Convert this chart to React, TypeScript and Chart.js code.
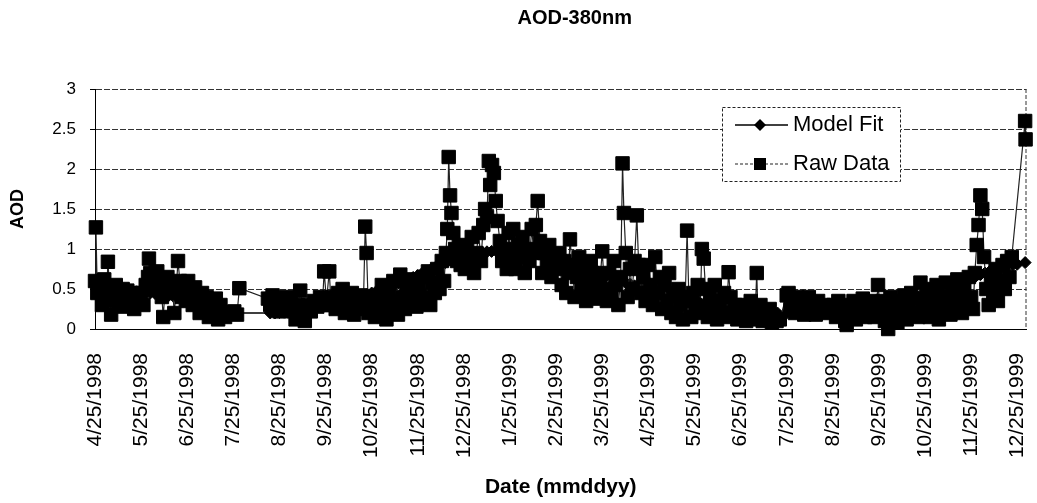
import React, { useEffect, useRef } from 'react';
import { Chart, registerables } from 'chart.js';

Chart.register(...registerables);

const FONT = "'Liberation Sans', Arial, sans-serif";

const tickLabels = [
  '4/25/1998', '5/25/1998', '6/25/1998', '7/25/1998', '8/25/1998', '9/25/1998',
  '10/25/1998', '11/25/1998', '12/25/1998', '1/25/1999', '2/25/1999', '3/25/1999',
  '4/25/1999', '5/25/1999', '6/25/1999', '7/25/1999', '8/25/1999', '9/25/1999',
  '10/25/1999', '11/25/1999', '12/25/1999',
];

// [months after 4/25/1998, AOD]
const rawPoints: [number, number][] = [
  [0.00, 0.60], [0.02, 1.27], [0.05, 0.45], [0.10, 0.55], [0.15, 0.30], [0.20, 0.62], [0.25, 0.40], [0.28, 0.84], [0.32, 0.50], [0.35, 0.18], [0.40, 0.35], [0.45, 0.55], [0.50, 0.42], [0.55, 0.28], [0.60, 0.50], [0.65, 0.35], [0.70, 0.48], [0.75, 0.30], [0.80, 0.45], [0.85, 0.25], [0.90, 0.40], [0.95, 0.32],
  [1.00, 0.45], [1.05, 0.30], [1.10, 0.55], [1.15, 0.65], [1.17, 0.88], [1.20, 0.70], [1.25, 0.50], [1.30, 0.62], [1.35, 0.72], [1.40, 0.55], [1.45, 0.40], [1.48, 0.15], [1.52, 0.50], [1.57, 0.65], [1.62, 0.45], [1.67, 0.58], [1.72, 0.20], [1.76, 0.50], [1.80, 0.85], [1.84, 0.60], [1.88, 0.40], [1.93, 0.55], [1.97, 0.35],
  [2.02, 0.60], [2.07, 0.45], [2.12, 0.30], [2.17, 0.52], [2.22, 0.38], [2.27, 0.20], [2.32, 0.45], [2.37, 0.30], [2.42, 0.40], [2.47, 0.15], [2.52, 0.35], [2.57, 0.25], [2.62, 0.38], [2.67, 0.12], [2.72, 0.30], [2.77, 0.20], [2.82, 0.15],
  [2.95, 0.20], [3.02, 0.22], [3.08, 0.18], [3.13, 0.51],
  [3.75, 0.38], [3.80, 0.30], [3.85, 0.42], [3.90, 0.25], [3.95, 0.35], [4.00, 0.22], [4.05, 0.38], [4.10, 0.28], [4.15, 0.40], [4.20, 0.30],
  [4.25, 0.32], [4.30, 0.22], [4.35, 0.12], [4.40, 0.30], [4.45, 0.48], [4.50, 0.25], [4.55, 0.10], [4.62, 0.30], [4.68, 0.22], [4.75, 0.35], [4.82, 0.28], [4.88, 0.40], [4.93, 0.30], [4.97, 0.72], [5.02, 0.35], [5.08, 0.72], [5.12, 0.30],
  [5.17, 0.40], [5.22, 0.25], [5.27, 0.45], [5.32, 0.30], [5.37, 0.50], [5.42, 0.20], [5.47, 0.38], [5.52, 0.28], [5.57, 0.45], [5.62, 0.18], [5.67, 0.35], [5.72, 0.25], [5.77, 0.42], [5.82, 0.30], [5.86, 1.28], [5.89, 0.95], [5.93, 0.20], [5.97, 0.40],
  [6.02, 0.25], [6.07, 0.15], [6.12, 0.40], [6.17, 0.20], [6.22, 0.55], [6.27, 0.30], [6.32, 0.12], [6.37, 0.45], [6.42, 0.25], [6.47, 0.60], [6.52, 0.35], [6.57, 0.18], [6.62, 0.68], [6.67, 0.40], [6.72, 0.25], [6.77, 0.55], [6.82, 0.30], [6.87, 0.62], [6.92, 0.40], [6.97, 0.28],
  [7.02, 0.55], [7.07, 0.35], [7.12, 0.65], [7.17, 0.40], [7.22, 0.72], [7.27, 0.30], [7.32, 0.58], [7.37, 0.45], [7.42, 0.75], [7.47, 0.50], [7.52, 0.85], [7.57, 0.60], [7.61, 0.95], [7.64, 1.25], [7.67, 2.15], [7.70, 1.67], [7.73, 1.45], [7.77, 1.20], [7.81, 1.00], [7.85, 0.85], [7.89, 1.05], [7.93, 0.80], [7.97, 0.95],
  [8.02, 0.75], [8.07, 1.00], [8.12, 0.80], [8.17, 1.15], [8.22, 0.70], [8.27, 0.95], [8.32, 1.20], [8.37, 0.85], [8.42, 1.30], [8.46, 1.50], [8.50, 1.40], [8.54, 2.10], [8.57, 1.80], [8.61, 2.05], [8.65, 1.95], [8.69, 1.60], [8.73, 1.35], [8.78, 1.10], [8.83, 0.85], [8.88, 1.00], [8.93, 0.75], [8.97, 1.20],
  [9.02, 0.90], [9.07, 1.25], [9.12, 0.75], [9.17, 1.05], [9.22, 0.90], [9.27, 1.15], [9.32, 0.70], [9.37, 1.00], [9.42, 0.85], [9.47, 1.25], [9.52, 0.95], [9.56, 1.30], [9.60, 1.60], [9.65, 1.10], [9.70, 0.70], [9.75, 0.95], [9.80, 0.80], [9.85, 1.05], [9.90, 0.65], [9.95, 0.90],
  [10.02, 0.75], [10.07, 0.95], [10.12, 0.55], [10.17, 0.85], [10.22, 0.45], [10.27, 0.70], [10.30, 1.12], [10.35, 0.80], [10.40, 0.40], [10.45, 0.65], [10.50, 0.90], [10.55, 0.50], [10.60, 0.75], [10.65, 0.35], [10.70, 0.60], [10.75, 0.85], [10.80, 0.45], [10.85, 0.70], [10.90, 0.38], [10.95, 0.60],
  [11.00, 0.97], [11.05, 0.50], [11.10, 0.35], [11.15, 0.70], [11.20, 0.45], [11.25, 0.85], [11.30, 0.55], [11.35, 0.30], [11.40, 0.65], [11.44, 2.07], [11.47, 1.45], [11.51, 0.95], [11.55, 0.40], [11.60, 0.75], [11.65, 0.50], [11.70, 0.85], [11.75, 1.42], [11.79, 0.80], [11.84, 0.45], [11.89, 0.65], [11.94, 0.35],
  [12.00, 0.80], [12.05, 0.55], [12.10, 0.30], [12.15, 0.90], [12.20, 0.45], [12.25, 0.65], [12.30, 0.25], [12.35, 0.55], [12.40, 0.35], [12.45, 0.70], [12.50, 0.20], [12.55, 0.45], [12.60, 0.15], [12.65, 0.50], [12.70, 0.30], [12.75, 0.12], [12.80, 0.40], [12.84, 1.23], [12.88, 0.35], [12.93, 0.15], [12.97, 0.45],
  [13.02, 0.30], [13.07, 0.55], [13.12, 0.20], [13.16, 1.00], [13.20, 0.88], [13.24, 0.50], [13.29, 0.15], [13.34, 0.40], [13.39, 0.25], [13.44, 0.55], [13.49, 0.12], [13.54, 0.35], [13.59, 0.20], [13.64, 0.45], [13.69, 0.15], [13.74, 0.71], [13.78, 0.40], [13.83, 0.20], [13.88, 0.30], [13.93, 0.12], [13.97, 0.25],
  [14.02, 0.15], [14.07, 0.30], [14.12, 0.10], [14.17, 0.25], [14.22, 0.35], [14.27, 0.15], [14.32, 0.25], [14.35, 0.70], [14.38, 0.12], [14.43, 0.30], [14.48, 0.10], [14.53, 0.20], [14.58, 0.12], [14.63, 0.25], [14.68, 0.08], [14.73, 0.15], [14.78, 0.10], [14.85, 0.12],
  [15.00, 0.42], [15.04, 0.45], [15.08, 0.25], [15.13, 0.35], [15.18, 0.20], [15.23, 0.40], [15.28, 0.25], [15.33, 0.35], [15.38, 0.18], [15.43, 0.30], [15.48, 0.40], [15.53, 0.22], [15.58, 0.32], [15.63, 0.18], [15.68, 0.35], [15.73, 0.25], [15.80, 0.30], [15.85, 0.20], [15.95, 0.25],
  [16.02, 0.30], [16.07, 0.15], [16.12, 0.35], [16.17, 0.20], [16.22, 0.28], [16.27, 0.10], [16.30, 0.05], [16.35, 0.30], [16.40, 0.18], [16.45, 0.35], [16.50, 0.12], [16.55, 0.28], [16.60, 0.20], [16.65, 0.38], [16.70, 0.15], [16.75, 0.30], [16.80, 0.22], [16.85, 0.35], [16.90, 0.15], [16.95, 0.30], [16.98, 0.55],
  [17.03, 0.25], [17.08, 0.35], [17.13, 0.10], [17.18, 0.30], [17.20, 0.00], [17.25, 0.40], [17.30, 0.15], [17.35, 0.30], [17.40, 0.08], [17.45, 0.35], [17.50, 0.20], [17.55, 0.42], [17.60, 0.12], [17.65, 0.30], [17.70, 0.45], [17.75, 0.20], [17.80, 0.38], [17.85, 0.15], [17.90, 0.58], [17.95, 0.35],
  [18.00, 0.20], [18.05, 0.45], [18.10, 0.15], [18.15, 0.50], [18.20, 0.30], [18.25, 0.55], [18.30, 0.12], [18.35, 0.40], [18.40, 0.25], [18.45, 0.58], [18.50, 0.35], [18.55, 0.18], [18.60, 0.50], [18.65, 0.30], [18.70, 0.62], [18.75, 0.40], [18.80, 0.20], [18.85, 0.55], [18.90, 0.35], [18.95, 0.65],
  [19.00, 0.40], [19.04, 0.25], [19.08, 0.70], [19.12, 1.05], [19.16, 1.30], [19.20, 1.67], [19.24, 1.50], [19.28, 0.90], [19.33, 0.50], [19.38, 0.30], [19.43, 0.65], [19.48, 0.45], [19.53, 0.75], [19.58, 0.35], [19.63, 0.60], [19.68, 0.80], [19.73, 0.50], [19.78, 0.85], [19.83, 0.65], [19.88, 0.90],
  [20.17, 2.60], [20.18, 2.37],
];

const fitPoints: [number, number][] = [
  [0.0, 0.55], [0.1, 0.54], [0.2, 0.53], [0.3, 0.51], [0.4, 0.50], [0.5, 0.49], [0.6, 0.48], [0.7, 0.475], [0.8, 0.47], [0.9, 0.465],
  [1.0, 0.46], [1.1, 0.455], [1.2, 0.45], [1.3, 0.445], [1.4, 0.44], [1.5, 0.43], [1.6, 0.42], [1.7, 0.41], [1.8, 0.40], [1.9, 0.39],
  [2.0, 0.38], [2.1, 0.365], [2.2, 0.35], [2.3, 0.335], [2.4, 0.32], [2.5, 0.30], [2.6, 0.28], [2.7, 0.26], [2.8, 0.24], [2.9, 0.225],
  [3.0, 0.21], [3.1, 0.20],
  [3.8, 0.20], [3.9, 0.20], [4.0, 0.205], [4.1, 0.21], [4.2, 0.215], [4.3, 0.22], [4.4, 0.23], [4.5, 0.24], [4.6, 0.255], [4.7, 0.27], [4.8, 0.28], [4.9, 0.295],
  [5.0, 0.31], [5.1, 0.325], [5.2, 0.34], [5.3, 0.35], [5.4, 0.365], [5.5, 0.38], [5.6, 0.39], [5.7, 0.405], [5.8, 0.42], [5.9, 0.43],
  [6.0, 0.45], [6.1, 0.47], [6.2, 0.49], [6.3, 0.51], [6.4, 0.53], [6.5, 0.55], [6.6, 0.57], [6.7, 0.595], [6.8, 0.62], [6.9, 0.645],
  [7.0, 0.67], [7.1, 0.70], [7.2, 0.725], [7.3, 0.75], [7.4, 0.78], [7.5, 0.805], [7.6, 0.83], [7.7, 0.86], [7.8, 0.88], [7.9, 0.90],
  [8.0, 0.92], [8.1, 0.93], [8.2, 0.94], [8.3, 0.95], [8.4, 0.96], [8.5, 0.965], [8.6, 0.97], [8.7, 0.975], [8.8, 0.98], [8.9, 0.975],
  [9.0, 0.97], [9.1, 0.965], [9.2, 0.96], [9.3, 0.955], [9.4, 0.95], [9.5, 0.945], [9.6, 0.94], [9.7, 0.93], [9.8, 0.92], [9.9, 0.91],
  [10.0, 0.90], [10.1, 0.885], [10.2, 0.87], [10.3, 0.85], [10.4, 0.83], [10.5, 0.81], [10.6, 0.79], [10.7, 0.765], [10.8, 0.74], [10.9, 0.715],
  [11.0, 0.69], [11.1, 0.665], [11.2, 0.64], [11.3, 0.62], [11.4, 0.60], [11.5, 0.58], [11.6, 0.56], [11.7, 0.54], [11.8, 0.52], [11.9, 0.50],
  [12.0, 0.48], [12.1, 0.465], [12.2, 0.45], [12.3, 0.435], [12.4, 0.42], [12.5, 0.405], [12.6, 0.39], [12.7, 0.375], [12.8, 0.36], [12.9, 0.345],
  [13.0, 0.33], [13.1, 0.32], [13.2, 0.31], [13.3, 0.30], [13.4, 0.29], [13.5, 0.28], [13.6, 0.27], [13.7, 0.26], [13.8, 0.25], [13.9, 0.24],
  [14.0, 0.23], [14.1, 0.225], [14.2, 0.22], [14.3, 0.215], [14.4, 0.21], [14.5, 0.205], [14.6, 0.20], [14.7, 0.20], [14.8, 0.20],
  [15.0, 0.20], [15.1, 0.20], [15.2, 0.20], [15.3, 0.20], [15.4, 0.20], [15.5, 0.20], [15.6, 0.20], [15.7, 0.20], [15.8, 0.20], [15.9, 0.20],
  [16.0, 0.20], [16.1, 0.205], [16.2, 0.21], [16.3, 0.215], [16.4, 0.22], [16.5, 0.225], [16.6, 0.23], [16.7, 0.24], [16.8, 0.25], [16.9, 0.26],
  [17.0, 0.27], [17.1, 0.285], [17.2, 0.30], [17.3, 0.315], [17.4, 0.33], [17.5, 0.345], [17.6, 0.36], [17.7, 0.38], [17.8, 0.40], [17.9, 0.42],
  [18.0, 0.44], [18.1, 0.46], [18.2, 0.48], [18.3, 0.50], [18.4, 0.52], [18.5, 0.54], [18.6, 0.56], [18.7, 0.58], [18.8, 0.60], [18.9, 0.62],
  [19.0, 0.64], [19.1, 0.66], [19.2, 0.68], [19.3, 0.70], [19.4, 0.72], [19.5, 0.74], [19.6, 0.76], [19.7, 0.775], [19.8, 0.79], [19.9, 0.80],
  [20.0, 0.81], [20.17, 0.83],
];

const extrasPlugin = {
  id: 'extras',
  afterLayout(chart: any) {
    const t = chart.titleBlock;
    if (t) {
      t.left += 14;
      t.right += 14;
    }
  },
  beforeDatasetsDraw(chart: any) {
    const { ctx, chartArea } = chart;
    ctx.save();
    ctx.strokeStyle = '#333';
    ctx.lineWidth = 1;
    ctx.setLineDash([4, 2]);
    ctx.beginPath();
    ctx.moveTo(chartArea.right - 0.5, chartArea.top);
    ctx.lineTo(chartArea.right - 0.5, chartArea.bottom);
    ctx.stroke();
    ctx.restore();
  },
  afterDraw(chart: any) {
    const { ctx } = chart;
    const ds = chart.data.datasets;
    const bx = 722, by = 107, bw = 179, bh = 75;
    ctx.save();
    ctx.fillStyle = '#fff';
    ctx.fillRect(bx, by, bw, bh);
    ctx.strokeStyle = '#222';
    ctx.lineWidth = 1;
    ctx.setLineDash([3, 2]);
    ctx.strokeRect(bx + 0.5, by + 0.5, bw - 1, bh - 1);
    ctx.setLineDash([]);
    ctx.font = `22px ${FONT}`;
    ctx.textBaseline = 'middle';
    ctx.textAlign = 'left';
    const rows = [125, 164];
    ds.forEach((d: any, i: number) => {
      const y = rows[i];
      ctx.strokeStyle = d.borderColor;
      ctx.lineWidth = d.borderWidth;
      if (d.pointStyle === 'rect') ctx.setLineDash([3, 2]);
      ctx.beginPath();
      ctx.moveTo(735, y);
      ctx.lineTo(788, y);
      ctx.stroke();
      ctx.setLineDash([]);
      ctx.fillStyle = '#000';
      if (d.pointStyle === 'rect') {
        ctx.fillRect(754, y - 6, 12, 12);
      } else {
        ctx.beginPath();
        ctx.moveTo(760, y - 6);
        ctx.lineTo(766, y);
        ctx.lineTo(760, y + 6);
        ctx.lineTo(754, y);
        ctx.closePath();
        ctx.fill();
      }
      ctx.fillStyle = '#000';
      ctx.fillText(d.label, 793, y);
    });
    ctx.restore();
  },
};

export default function App() {
  const ref = useRef<HTMLCanvasElement | null>(null);

  useEffect(() => {
    if (!ref.current) return;
    const chart = new Chart(ref.current, {
      type: 'scatter',
      data: {
        datasets: [
          {
            label: 'Model Fit',
            data: fitPoints.map(([x, y]) => ({ x, y })),
            showLine: true,
            borderColor: '#000',
            borderWidth: 1.5,
            pointStyle: 'rectRot',
            pointRadius: 6,
            pointBackgroundColor: '#000',
            pointBorderColor: '#000',
            pointBorderWidth: 1,
            order: 1,
            clip: 10,
          } as any,
          {
            label: 'Raw Data',
            data: rawPoints.map(([x, y]) => ({ x, y })),
            showLine: true,
            borderColor: '#222',
            borderWidth: 1.2,
            pointStyle: 'rect',
            pointRadius: 9.5,
            pointBackgroundColor: '#000',
            pointBorderColor: '#000',
            pointBorderWidth: 1,
            order: 0,
            clip: 10,
          } as any,
        ],
      },
      options: {
        animation: false,
        responsive: false,
        devicePixelRatio: 1,
        events: [],
        layout: { padding: { left: 0, right: 4, top: 0, bottom: 0 } },
        plugins: {
          legend: { display: false },
          tooltip: { enabled: false },
          title: {
            display: true,
            text: 'AOD-380nm',
            fullSize: false,
            color: '#000',
            font: { family: FONT, size: 20, weight: 'bold' },
            padding: { top: 6, bottom: 59 },
          },
        },
        scales: {
          x: {
            type: 'linear',
            min: 0,
            max: 20.2,
            afterBuildTicks: (s: any) => {
              s.ticks = tickLabels.map((_, i) => ({ value: i }));
            },
            afterFit: (s: any) => {
              s.height = 174;
              s.paddingLeft = 0;
              s.paddingRight = 0;
            },
            ticks: {
              autoSkip: false,
              maxRotation: 90,
              minRotation: 90,
              padding: 24,
              color: '#000',
              font: { family: FONT, size: 21 },
              callback: (v: any) => tickLabels[v] ?? '',
            },
            grid: { display: false, drawTicks: false },
            border: { display: true, color: '#000', width: 1 },
            title: {
              display: true,
              text: 'Date (mmddyy)',
              color: '#000',
              font: { family: FONT, size: 21, weight: 'bold' },
              padding: { top: 0, bottom: 3 },
            },
          } as any,
          y: {
            min: 0,
            max: 3,
            afterFit: (s: any) => {
              s.width = 95;
              s.paddingTop = 0;
              s.paddingBottom = 0;
            },
            ticks: {
              stepSize: 0.5,
              padding: 14,
              color: '#000',
              font: { family: FONT, size: 17 },
              callback: (v: any) => String(Number(v)),
            },
            grid: { color: '#333', lineWidth: 1, tickLength: 5, tickColor: '#000', drawTicks: true },
            border: { display: true, color: '#000', width: 1, dash: [6, 2] },
            title: {
              display: true,
              text: 'AOD',
              color: '#000',
              font: { family: FONT, size: 18, weight: 'bold' },
              padding: { top: 7, bottom: 0 },
            },
          } as any,
        },
      },
      plugins: [extrasPlugin],
    });
    return () => chart.destroy();
  }, []);

  return (
    <div style={{ position: 'fixed', left: 0, top: 0, width: 1037, height: 503, background: '#fff' }}>
      <canvas ref={ref} width={1037} height={503} style={{ display: 'block' }} />
    </div>
  );
}
